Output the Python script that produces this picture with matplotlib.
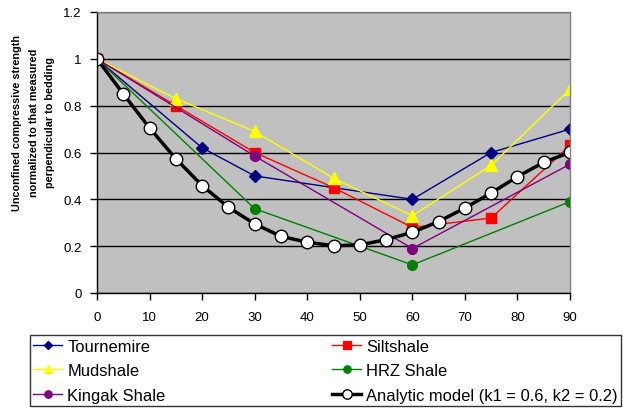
import matplotlib
matplotlib.use("Agg")
import matplotlib.pyplot as plt
from matplotlib.ticker import FuncFormatter

plt.rcParams['font.family'] = ['Liberation Sans', 'DejaVu Sans']

# Data
tour_x = [0, 20, 30, 60, 75, 90]
tour_y = [1.0, 0.62, 0.50, 0.40, 0.60, 0.70]
silt_x = [0, 15, 30, 45, 60, 75, 90]
silt_y = [1.0, 0.80, 0.60, 0.45, 0.28, 0.32, 0.63]
mud_x = [0, 15, 30, 45, 60, 75, 90]
mud_y = [1.0, 0.83, 0.69, 0.49, 0.33, 0.545, 0.87]
hrz_x = [0, 30, 60, 90]
hrz_y = [1.0, 0.36, 0.12, 0.39]
king_x = [0, 30, 60, 90]
king_y = [1.0, 0.585, 0.19, 0.55]
model_x = [0, 5, 10, 15, 20, 25, 30, 35, 40, 45, 50, 55, 60, 65, 70, 75, 80, 85, 90]
model_y = [1.0, 0.85, 0.705, 0.573, 0.459, 0.366, 0.295, 0.242, 0.217, 0.202,
           0.205, 0.228, 0.259, 0.305, 0.363, 0.427, 0.497, 0.558, 0.601]

xticks = [0, 10, 20, 30, 40, 50, 60, 70, 80, 90]
yticks = [0, 0.2, 0.4, 0.6, 0.8, 1.0, 1.2]

fig = plt.figure(figsize=(6.23, 4.10), dpi=100)
ax = fig.add_axes([97/623, 1-294/410, (570-97)/623, (294-13)/410])
ax.set_facecolor('#C0C0C0')

h_tour, = ax.plot(tour_x, tour_y, color='#000080', lw=1, marker='D', ms=6, mec='#000080', mfc='#000080', label='Tournemire', zorder=3)
h_silt, = ax.plot(silt_x, silt_y, color='#FF0000', lw=1, marker='s', ms=7, mec='#FF0000', mfc='#FF0000', label='Siltshale', zorder=3)
h_mud, = ax.plot(mud_x, mud_y, color='#FFFF00', lw=1, marker='^', ms=8, mec='#FFFF00', mfc='#FFFF00', label='Mudshale', zorder=3)
h_hrz, = ax.plot(hrz_x, hrz_y, color='#008000', lw=1, marker='o', ms=7, mec='#008000', mfc='#008000', label='HRZ Shale', zorder=3)
h_king, = ax.plot(king_x, king_y, color='#800080', lw=1, marker='o', ms=7, mec='#800080', mfc='#800080', label='Kingak Shale', zorder=3)
h_model, = ax.plot(model_x, model_y, color='black', lw=2.5, marker='o', ms=9, mec='black', mew=1, mfc='white', label='Analytic model (k1 = 0.6, k2 = 0.2)', zorder=4)

ax.set_xlim(0, 90)
ax.set_ylim(0, 1.2)
ax.set_xticks(xticks)
ax.set_yticks(yticks)
ax.yaxis.set_major_formatter(FuncFormatter(lambda v, p: '%g' % v))
ax.grid(axis='y', color='black', lw=1, zorder=1)
ax.set_axisbelow(True)
ax.tick_params(axis='both', direction='out', length=5, width=1, color='black', labelsize=9.5, pad=6)
ax.tick_params(axis='x', pad=8)
for s in ['left', 'bottom']:
    ax.spines[s].set_color('black')
    ax.spines[s].set_linewidth(1)
for s in ['top', 'right']:
    ax.spines[s].set_color('#808080')
    ax.spines[s].set_linewidth(1)
for s in ax.spines.values():
    s.set_zorder(5)
for l in ax.get_xticklabels() + ax.get_yticklabels():
    l.set_clip_on(False)

fig.text(0.054, 1-123/410, 'Unconfined compressive strength\nnormalized to that measured\nperpendicular to bedding',
         rotation=90, ha='center', va='center', fontsize=7.8, fontweight='bold', linespacing=1.8,
         multialignment='center')

handles = [h_tour, h_mud, h_king, h_silt, h_hrz, h_model]
leg = fig.legend(handles=handles, labels=[h.get_label() for h in handles],
                 loc='lower left', bbox_to_anchor=(30/623, 3/410, (621-30)/623, (407-334)/410),
                 mode='expand', ncol=2, fontsize=11.9, frameon=True, fancybox=False,
                 edgecolor='black', handlelength=1.75, handletextpad=0.3, labelspacing=0.58,
                 borderpad=0.2, borderaxespad=0, markerscale=0.75)
leg.get_frame().set_linewidth(1)

fig.savefig('out.png', dpi=100)
